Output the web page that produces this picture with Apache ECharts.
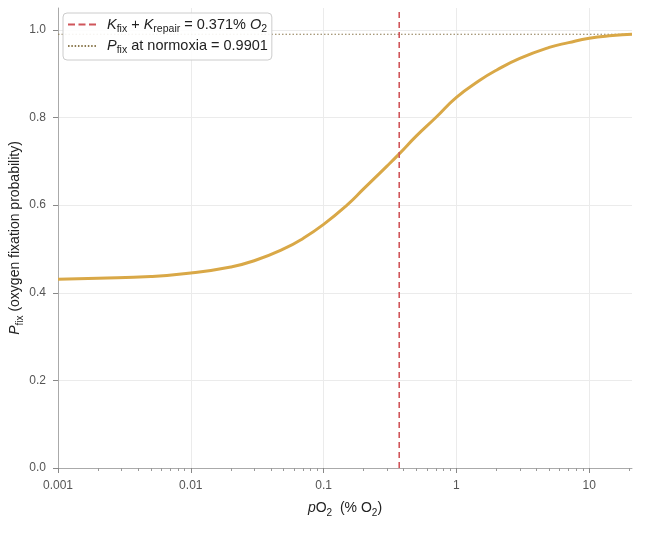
<!DOCTYPE html>
<html>
<head>
<meta charset="utf-8">
<script src="https://cdn.jsdelivr.net/npm/echarts@6/dist/echarts.min.js"></script>
<style>
  html, body { margin: 0; padding: 0; background: #fff; }
  #chart { width: 666px; height: 548px; }
</style>
</head>
<body>
<div id="chart"></div>
<script>
// curve
var pO2 = [0.001, 0.002, 0.005, 0.01, 0.02, 0.03, 0.05, 0.07, 0.1, 0.15, 0.2, 0.3, 0.371,
    0.5, 0.7, 1, 1.5, 2, 3, 5, 7, 10, 15, 21];
var pFix = [0.431, 0.433, 0.437, 0.445, 0.459, 0.473, 0.500, 0.524, 0.556, 0.600, 0.637, 0.689, 0.717,
    0.758, 0.800, 0.846, 0.885, 0.908, 0.935, 0.960, 0.971, 0.981, 0.987, 0.990];

var kSum = 0.371;        // K_fix + K_repair
var pNormoxia = 0.9901;  // P_fix at normoxia
var xRange = [0.001, 21];
var yRange = [0, 1.05];

var xMajorTicks = [0.001, 0.01, 0.1, 1, 10];
var xMinorTicks = [0.002, 0.003, 0.004, 0.005, 0.006, 0.007, 0.008, 0.009,
    0.02, 0.03, 0.04, 0.05, 0.06, 0.07, 0.08, 0.09,
    0.2, 0.3, 0.4, 0.5, 0.6, 0.7, 0.8, 0.9,
    2, 3, 4, 5, 6, 7, 8, 9, 20];
var yTicks = [0, 0.2, 0.4, 0.6, 0.8, 1.0];

var FONT = 'Liberation Sans, Arial, sans-serif';
var curveData = pO2.map(function (x, i) { return [x, pFix[i]]; });

// rich styles for italic symbols and subscripts
function richText(size) {
    return {
        t: { fontSize: size, color: '#222', lineHeight: 20 },
        i: { fontSize: size, color: '#222', fontStyle: 'italic', lineHeight: 20 },
        s: { fontSize: size - 4, color: '#222', verticalAlign: 'bottom', lineHeight: 14 }
    };
}

var chart = echarts.init(document.getElementById('chart'));

var option = {
    backgroundColor: '#ffffff',
    animation: false,
    textStyle: { fontFamily: FONT },
    grid: { left: 58, right: 34, top: 8, bottom: 80, containLabel: false, outerBoundsMode: 'none' },
    legend: {
        left: 63,
        top: 13,
        orient: 'vertical',
        data: [
            { name: 'ksum', icon: 'path://M0,0h7v2h-7z M10.5,0h7v2h-7z M21,0h7v2h-7z' },
            { name: 'norm', icon: 'path://M0,0h1.5v2h-1.5z M3.3,0h1.5v2h-1.5z M6.6,0h1.5v2h-1.5z M9.9,0h1.5v2h-1.5z M13.2,0h1.5v2h-1.5z M16.5,0h1.5v2h-1.5z M19.8,0h1.5v2h-1.5z M23.1,0h1.5v2h-1.5z M26.4,0h1.5v2h-1.5z' }
        ],
        itemWidth: 28,
        itemHeight: 2,
        itemGap: 4,
        padding: [4, 4, 4, 5],
        borderColor: '#cccccc',
        borderWidth: 1,
        borderRadius: 4,
        backgroundColor: 'rgba(255,255,255,0.9)',
        formatter: function (name) {
            if (name === 'ksum') {
                return '{i|K}{s|fix}{t| + }{i|K}{s|repair}{t| = 0.371% }{i|O}{s|2}';
            }
            return '{i|P}{s|fix}{t| at normoxia = 0.9901}';
        },
        textStyle: {
            color: '#222',
            fontSize: 14.5,
            padding: [0, 0, 0, 6],
            rich: richText(14.5)
        }
    },
    xAxis: [{
        type: 'log',
        logBase: 10,
        min: xRange[0],
        max: xRange[1],
        name: '{i|p}{t|O}{s|2}{t|  (% O}{s|2}{t|)}',
        nameLocation: 'middle',
        nameGap: 30,
        nameMoveOverlap: false,
        nameTextStyle: { rich: richText(14) },
        axisLine: { lineStyle: { color: '#aaaaaa', width: 1 } },
        axisTick: { length: 5, lineStyle: { color: '#888' }, customValues: xMajorTicks },
        axisLabel: {
            color: '#555', fontSize: 12, margin: 12,
            customValues: xMajorTicks,
            formatter: function (v) { return String(+v.toPrecision(3)); }
        },
        splitLine: {
            show: true,
            lineStyle: { color: ['#ebebeb', '#ebebeb', '#ebebeb', '#ebebeb', '#ebebeb', 'rgba(0,0,0,0)'], width: 1 }
        }
    }, {
        type: 'log',
        logBase: 10,
        min: xRange[0],
        max: xRange[1],
        position: 'bottom',
        axisLine: { show: false },
        axisTick: { length: 3, lineStyle: { color: '#999' }, customValues: xMinorTicks },
        axisLabel: { show: false },
        splitLine: { show: false }
    }],
    yAxis: {
        type: 'value',
        min: yRange[0],
        max: yRange[1],
        interval: 0.2,
        name: '{i|P}{s|fix}{t| (oxygen fixation probability)}',
        nameLocation: 'middle',
        nameGap: 33,
        nameMoveOverlap: false,
        nameTextStyle: { rich: richText(14) },
        axisLine: { show: true, lineStyle: { color: '#aaaaaa', width: 1 } },
        axisTick: { show: true, length: 5, lineStyle: { color: '#888' }, customValues: yTicks },
        axisLabel: {
            color: '#555', fontSize: 12, margin: 12,
            customValues: yTicks,
            formatter: function (v) { return v.toFixed(1); }
        },
        splitLine: {
            show: true,
            lineStyle: { color: ['#ebebeb', '#ebebeb', '#ebebeb', '#ebebeb', '#ebebeb', '#ebebeb', 'rgba(0,0,0,0)'], width: 1 }
        }
    },
    series: [{
        name: 'curve',
        type: 'line',
        data: curveData,
        smooth: 0.5,
        showSymbol: false,
        symbol: 'none',
        lineStyle: { color: '#d9a847', width: 3 },
        z: 3
    }, {
        name: 'ksum',
        type: 'line',
        data: [[kSum, yRange[0]], [kSum, yRange[1]]],
        showSymbol: false,
        symbol: 'none',
        color: '#d0555a',
        lineStyle: { color: '#d0555a', width: 1.6, type: [6, 4] },
        z: 4
    }, {
        name: 'norm',
        type: 'line',
        data: [[xRange[0], pNormoxia], [xRange[1], pNormoxia]],
        showSymbol: false,
        symbol: 'none',
        color: '#8c7a50',
        lineStyle: { color: '#8c7a50', width: 1.2, type: [1.5, 2] },
        z: 2
    }]
};

chart.setOption(option);
</script>
</body>
</html>
